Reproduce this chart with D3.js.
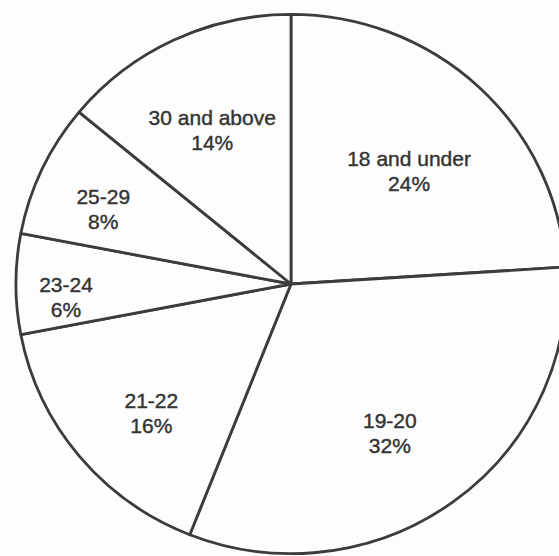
<!DOCTYPE html>
<html>
<head>
<meta charset="utf-8">
<script src="https://cdn.jsdelivr.net/npm/d3@7"></script>
<style>
  body { margin: 0; background: #fdfdfd; }
  .sliceLabel { font-family: "Liberation Sans", Arial, sans-serif; font-size: 21px; fill: #333; stroke: #333; stroke-width: 0.4px; text-anchor: middle; }
</style>
</head>
<body>
<div id="chart"></div>
<script>
// Age groups and shares (percent), clockwise from 12 o'clock
var groups = ["18 and under", "19-20", "21-22", "23-24", "25-29", "30 and above"];
var shares = [24, 32, 16, 6, 8, 14];

var svgWidth = 559;
var svgHeight = 556;
var cx = 291, cy = 284, radius = 271;

var svg = d3.select("#chart")
  .append("svg")
  .attr("width", svgWidth)
  .attr("height", svgHeight);

// the printed circle is a touch wider than tall
var pieGroup = svg.append("g")
  .attr("transform", `translate(${cx}, ${cy}) scale(1.015, 0.995)`);

var labelGroup = svg.append("g")
  .attr("transform", `translate(${cx}, ${cy + 13})`);

var slices = groups.map(function(g, i) { return { group: g, share: shares[i] }; });

var pie = d3.pie()
  .sort(null)
  .value(d => d.share);

var arc = d3.arc()
  .innerRadius(0)
  .outerRadius(radius);

var arcs = pie(slices);

pieGroup.selectAll(".slice")
  .data(arcs)
  .enter()
  .append("path")
  .attr("class", "slice")
  .attr("d", arc)
  .attr("fill", "#fdfdfd")
  .attr("stroke", "#3c3c3c")
  .attr("stroke-width", 2.8)
  .attr("stroke-linejoin", "round")
  .attr("vector-effect", "non-scaling-stroke");

// narrow slices get their labels pushed further out
function labelRadius(d) {
  var frac = d.data.share / d3.sum(shares);
  return 155 + 4.2 / frac;
}

var labels = labelGroup.selectAll(".sliceLabel")
  .data(arcs)
  .enter()
  .append("text")
  .attr("class", "sliceLabel")
  .attr("transform", function(d) {
    var r = labelRadius(d);
    var c = d3.arc().innerRadius(r).outerRadius(r).centroid(d);
    return `translate(${c[0]}, ${c[1]})`;
  });

labels.append("tspan")
  .attr("x", 0)
  .attr("y", -5)
  .text(d => d.data.group);

labels.append("tspan")
  .attr("x", 0)
  .attr("y", 20)
  .text(d => d.data.share + "%");
</script>
</body>
</html>
